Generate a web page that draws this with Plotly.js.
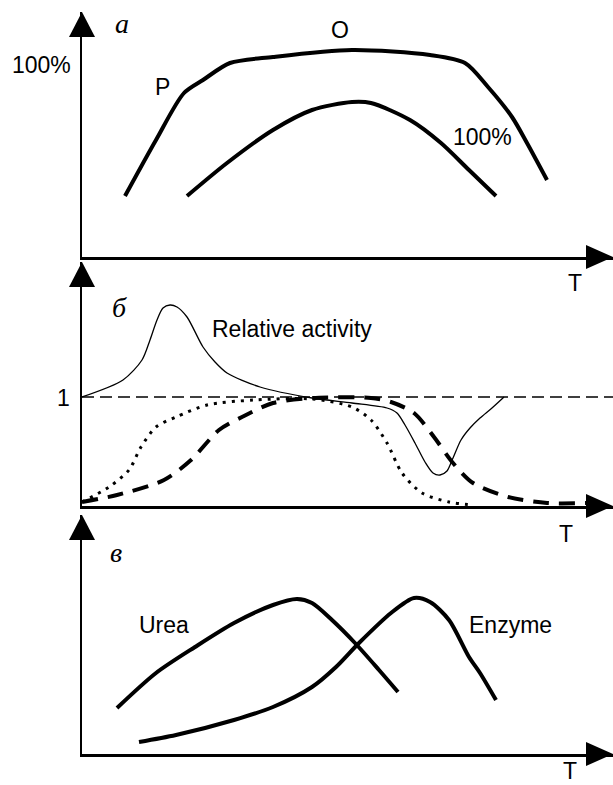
<!DOCTYPE html>
<html><head><meta charset="utf-8">
<script src="https://cdn.plot.ly/plotly-3.0.1.min.js"></script>
<style>html,body{margin:0;padding:0;background:#fff}</style>
</head><body><div id="chart" style="width:613px;height:785px"></div>
<script>
// ---- Panel а : two bell curves (arbitrary units, T horizontal) ----
const aOuterT = [43, 74, 102, 121, 148, 191, 270, 348, 383, 406, 430, 445, 465];
const aOuterY = [61, 117, 164, 177, 194, 200, 207, 202, 194, 170, 140, 114, 77];
const aInnerT = [105, 145, 191, 230, 270, 289, 328, 359, 387, 414];
const aInnerY = [61, 94, 127, 147, 155, 154, 137, 114, 87, 61];

// ---- Panel б : relative activity and two sigmoid-like curves ----
const bRelT = [0, 41, 60, 68, 75, 81, 88, 95, 105, 121, 133, 145, 178, 230, 270, 305, 315, 323, 333, 343, 351, 358, 365, 371, 379, 388, 398, 410, 422];
const bRelY = [109, 126, 146, 166, 186, 198, 201, 199, 189, 159, 144, 133, 119, 108, 103, 98, 93, 81, 63, 44, 33, 31, 35, 48, 66, 78, 88, 98, 109];
const bDotT = [0, 27, 47, 59, 74, 94, 125, 172, 230, 270, 289, 305, 320, 340, 367, 391];
const bDotY = [4, 19, 36, 59, 79, 89, 101, 106, 107, 99, 86, 63, 33, 13, 4, 1];
const bDashT = [0, 35, 82, 109, 137, 160, 191, 230, 289, 309, 332, 352, 371, 391, 426, 465, 504];
const bDashY = [4, 11, 26, 46, 76, 89, 103, 108, 108, 104, 93, 69, 43, 23, 9, 3, 3];
const bUnitLevel = 109; // level "1"
const bUnitT = [0, 531];

// ---- Panel в : Urea and Enzyme ----
const cUreaT = [35, 74, 113, 152, 191, 215, 230, 250, 273, 297, 316];
const cUreaY = [46, 81, 107, 131, 149, 155, 151, 134, 111, 84, 62];
const cEnzT = [57, 94, 152, 191, 230, 254, 277, 309, 332, 348, 367, 387, 398, 414];
const cEnzY = [12, 19, 34, 47, 67, 87, 111, 141, 156, 152, 134, 97, 81, 54];

const W = 613, H = 785;
const PX = p => p / W;
const PY = p => (H - p) / H;

const thick = {color: '#000', width: 4, shape: 'spline', smoothing: 0.8};
const traces = [
  {x: aOuterT, y: aOuterY, xaxis: 'x', yaxis: 'y', mode: 'lines', line: thick},
  {x: aInnerT, y: aInnerY, xaxis: 'x', yaxis: 'y', mode: 'lines', line: thick},
  {x: bUnitT, y: bUnitT.map(() => bUnitLevel), xaxis: 'x2', yaxis: 'y2', mode: 'lines', line: {color: '#000', width: 1.5, dash: '12px,6px'}},
  {x: bRelT, y: bRelY, xaxis: 'x2', yaxis: 'y2', mode: 'lines', line: {color: '#000', width: 1.3, shape: 'spline', smoothing: 0.8}},
  {x: bDotT, y: bDotY, xaxis: 'x2', yaxis: 'y2', mode: 'lines', line: {color: '#000', width: 3, dash: '3px,6px', shape: 'spline', smoothing: 0.8}},
  {x: bDashT, y: bDashY, xaxis: 'x2', yaxis: 'y2', mode: 'lines', line: {color: '#000', width: 4, dash: '16px,10px', shape: 'spline', smoothing: 0.8}},
  {x: cUreaT, y: cUreaY, xaxis: 'x3', yaxis: 'y3', mode: 'lines', line: thick},
  {x: cEnzT, y: cEnzY, xaxis: 'x3', yaxis: 'y3', mode: 'lines', line: thick}
];

const xBase = {range: [0, 531], domain: [PX(82), 1], showgrid: false, zeroline: false, showticklabels: false, ticks: '', showline: true, linecolor: '#000', linewidth: 2.5, fixedrange: true};
const yBase = {showgrid: false, zeroline: false, showticklabels: false, ticks: '', showline: true, linecolor: '#000', linewidth: 2.5, fixedrange: true};

// panels: axis pixel row, arrow tip pixel row
const panels = [{axis: 257, top: 12}, {axis: 506, top: 262}, {axis: 754, top: 515}];

const layout = {
  width: W, height: H, margin: {l: 0, r: 0, t: 0, b: 0},
  paper_bgcolor: '#fff', plot_bgcolor: 'rgba(0,0,0,0)', showlegend: false,
  shapes: [], annotations: []
};
panels.forEach((p, i) => {
  const s = i === 0 ? '' : String(i + 1);
  layout['xaxis' + s] = Object.assign({}, xBase, {anchor: 'y' + s});
  layout['yaxis' + s] = Object.assign({}, yBase, {anchor: 'x' + s, range: [0, p.axis - p.top], domain: [PY(p.axis), PY(p.top)]});
  // up arrow
  layout.shapes.push({type: 'path', xref: 'paper', yref: 'paper', fillcolor: '#000', line: {width: 0},
    path: `M${PX(82)},${PY(p.top)} L${PX(69)},${PY(p.top + 25)} L${PX(95)},${PY(p.top + 25)} Z`});
  // right arrow
  layout.shapes.push({type: 'path', xref: 'paper', yref: 'paper', fillcolor: '#000', line: {width: 0},
    path: `M${PX(613)},${PY(p.axis)} L${PX(586)},${PY(p.axis - 12)} L${PX(586)},${PY(p.axis + 12)} Z`});
});

const sans = {family: 'Liberation Sans, Arial, sans-serif', size: 23, color: '#000'};
const ital = {family: 'Liberation Serif, Times New Roman, serif', size: 28, color: '#000', style: 'italic'};
const labels = [
  ['а', 122, 24, ital], ['б', 119, 307, ital], ['в', 116, 552, ital],
  ['O', 340, 30, sans], ['P', 163, 87, sans], ['100%', 41, 65, sans], ['100%', 482, 137, sans],
  ['T', 575, 283, sans], ['1', 63, 398, sans], ['Relative activity', 292, 329, sans],
  ['T', 566, 534, sans], ['Urea', 164, 625, sans], ['Enzyme', 510, 625, sans], ['T', 570, 771, sans]
];
labels.forEach(([t, x, y, f]) => layout.annotations.push({text: t, x: PX(x), y: PY(y), xref: 'paper', yref: 'paper',
  xanchor: 'center', yanchor: 'middle', showarrow: false, font: f}));

Plotly.newPlot('chart', traces, layout, {staticPlot: true, displayModeBar: false});
</script></body></html>
